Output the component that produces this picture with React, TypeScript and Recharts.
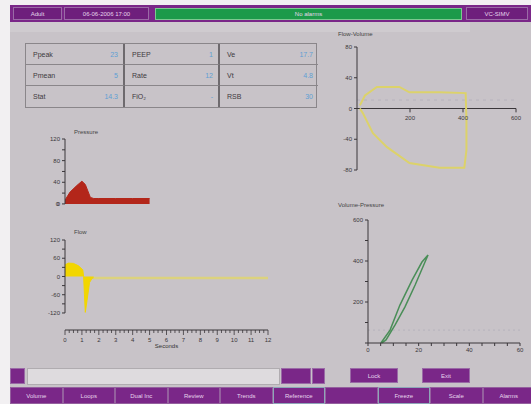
import React from "react";
import {
  ComposedChart,
  Area,
  Line,
  XAxis,
  YAxis,
  ReferenceLine,
} from "recharts";

// waveform values
const pressureT = [0, 0.3, 0.7, 1.0, 1.2, 1.5, 1.7, 2, 3, 4, 5];
const pressureP = [7, 22, 34, 42, 36, 12, 10, 10, 10, 10, 10];

const flowT = [0, 0.2, 0.5, 0.8, 1.05, 1.1, 1.15, 1.2, 1.3, 1.45, 1.6, 1.7];
const flowF = [38, 44, 43, 35, 22, 0, -60, -118, -80, -20, -6, -5];
const tailT = [1.7, 12];
const tailF = [-5, -5];

const fvX = [11, 22, 60, 112, 198, 311, 405, 413, 413, 410, 311, 198, 160, 75, 30, 11];
const fvY = [0, -6, -32, -50, -71, -77, -77, -54, -15, 20, 21, 21, 28, 28, 17, 4];

const vpX = [5.1, 8.7, 12.6, 17.4, 21.3, 23.7, 22.5, 18.6, 14.6, 10.7, 7.1, 5.5];
const vpY = [0, 63, 185, 307, 395, 429, 395, 283, 176, 88, 15, 0];

const secondsTicks = Array.from({ length: 49 }, (_, i) => i / 4);
const pressureTicks = [0, 20, 40, 60, 80, 100, 120];
const fvXTicks = [200, 400, 600];

const tableLabels = [
  ["Ppeak", "PEEP", "Ve"],
  ["Pmean", "Rate", "Vt"],
  ["Stat", "FiO\u2082", "RSB"],
];
const tableValues = [
  ["23", "1", "17.7"],
  ["5", "12", "4.8"],
  ["14.3", "-", "30"],
];

const menuItems = ["Volume", "Loops", "Dual Inc", "Review", "Trends", "Reference", "", "Freeze", "Scale", "Alarms"];

const pressureData = pressureT.map((t, i) => ({ t, p: pressureP[i] }));
const flowData = flowT.map((t, i) => ({ t, f: flowF[i] }));
const tailData = tailT.map((t, i) => ({ t, f: tailF[i] }));
const fvData = fvX.map((x, i) => ({ x, y: fvY[i] }));
const vpData = vpX.map((x, i) => ({ x, y: vpY[i] }));

const FONT = "'Liberation Sans', Arial, sans-serif";
const BG = "#c8c3c8";
const PURPLE = "#7a2788";
const AXIS = "#3a363a";
const tickStyle = { fontSize: 6, fill: "#3a363a", fontFamily: FONT };

const SecondsTick = (props: any) => {
  const { x, y, payload } = props;
  const v = payload.value;
  const major = Number.isInteger(v);
  return (
    <g>
      <line x1={x} x2={x} y1={y} y2={y + (major ? 5 : 3)} stroke={AXIS} strokeWidth={0.8} />
      {major && (
        <text x={x} y={y + 12} textAnchor="middle" {...tickStyle}>
          {v}
        </text>
      )}
    </g>
  );
};

const Title = ({ x, y, text }: { x: number; y: number; text: string }) => (
  <div style={{ position: "absolute", left: x, top: y, fontSize: 6, color: "#444", fontFamily: FONT }}>{text}</div>
);

const Box = ({ x, y, w, h, text, bg = PURPLE, border = "#9a6aa6" }: any) => (
  <div
    style={{
      position: "absolute",
      left: x,
      top: y,
      width: w,
      height: h,
      background: bg,
      border: `1px solid ${border}`,
      boxSizing: "border-box",
      color: "#e6d6ec",
      fontSize: 6,
      fontFamily: FONT,
      display: "flex",
      alignItems: "center",
      justifyContent: "center",
    }}
  >
    {text}
  </div>
);

const colW = [99, 95, 98];

export default function App() {
  return (
    <div style={{ position: "fixed", left: 0, top: 0, width: 531, height: 404, background: "#f2f0f2", overflow: "hidden" }}>
      <div style={{ position: "absolute", left: 10, top: 5, width: 521, height: 399, background: BG }} />
      {/* top status bar */}
      <div style={{ position: "absolute", left: 10, top: 5, width: 521, height: 17, background: PURPLE }} />
      <Box x={13} y={7} w={49} h={13} text="Adult" bg="#6e1f7c" />
      <Box x={64} y={7} w={85} h={13} text="06-06-2006 17:00" bg="#6e1f7c" />
      <Box x={155} y={8} w={307} h={12} text="No alarms" bg="#1c9a4a" border="#7cc890" />
      <Box x={466} y={7} w={62} h={13} text="VC-SIMV" bg="#6e1f7c" />
      <div style={{ position: "absolute", left: 10, top: 22, width: 460, height: 10, background: "#cfcbcf" }} />

      {/* parameter table */}
      <div
        style={{
          position: "absolute",
          left: 25,
          top: 43,
          width: 292,
          height: 65,
          border: "1px solid #8a868a",
          boxSizing: "border-box",
          display: "grid",
          gridTemplateColumns: colW.map((w) => `${w}px`).join(" "),
          gridTemplateRows: "21px 21px 21px",
          fontFamily: FONT,
          fontSize: 7,
        }}
      >
        {tableLabels.map((row, r) =>
          row.map((lab, c) => (
            <div
              key={`${r}-${c}`}
              style={{
                borderRight: c < 2 ? "2px solid #6e6a6e" : "none",
                borderBottom: r < 2 ? "1px solid #8a868a" : "none",
                display: "flex",
                alignItems: "center",
                justifyContent: "space-between",
                padding: "0 5px 0 7px",
              }}
            >
              <span style={{ color: "#3e3a3e" }}>{lab}</span>
              <span style={{ color: "#5f9fd4" }}>{tableValues[r][c]}</span>
            </div>
          ))
        )}
      </div>

      {/* pressure waveform */}
      <Title x={74} y={129} text="Pressure" />
      <div style={{ position: "absolute", left: 25, top: 120 }}>
        <ComposedChart width={253} height={92} margin={{ top: 19, right: 10, bottom: 7, left: 0 }} data={pressureData}>
          <XAxis hide type="number" dataKey="t" domain={[0, 12]} allowDataOverflow />
          <YAxis
            type="number"
            domain={[-2, 120]}
            allowDataOverflow
            ticks={pressureTicks}
            interval={0}
            tickFormatter={(v: number) => (v % 40 === 0 ? String(v) : "")}
            width={40}
            tick={tickStyle}
            tickSize={3}
            axisLine={false}
            stroke={AXIS}
          />
          <ReferenceLine segment={[{ x: 0, y: 0 }, { x: 0, y: 120 }]} stroke={AXIS} />
          <ReferenceLine
            y={0}
            stroke="none"
            label={{ value: "0", position: "left", offset: 6, fontSize: 6, fill: "#3a363a", fontFamily: FONT }}
          />
          <Area
            type="linear"
            dataKey="p"
            baseValue={0}
            stroke="#b3261a"
            fill="#b3261a"
            fillOpacity={1}
            isAnimationActive={false}
            dot={false}
          />
        </ComposedChart>
      </div>

      {/* flow waveform */}
      <Title x={74} y={229} text="Flow" />
      <div style={{ position: "absolute", left: 25, top: 225 }}>
        <ComposedChart width={253} height={125} margin={{ top: 15, right: 10, bottom: 0, left: 0 }}>
          <XAxis
            type="number"
            dataKey="t"
            domain={[0, 12]}
            ticks={secondsTicks}
            interval={0}
            tick={<SecondsTick />}
            tickLine={false}
            tickSize={0}
            tickMargin={0}
            height={20}
            stroke={AXIS}
            label={{ value: "Seconds", position: "insideBottom", offset: 2, fontSize: 6, fill: "#333", fontFamily: FONT }}
          />
          <YAxis
            type="number"
            domain={[-176, 120]}
            ticks={[-120, -90, -60, -30, 0, 30, 60, 90, 120]}
            interval={0}
            tickFormatter={(v: number) => (v % 60 === 0 ? String(v) : "")}
            width={40}
            tick={tickStyle}
            tickSize={3}
            axisLine={false}
            stroke={AXIS}
          />
          <ReferenceLine segment={[{ x: 0, y: -120 }, { x: 0, y: 120 }]} stroke={AXIS} />
          <Area
            data={flowData}
            type="linear"
            dataKey="f"
            stroke="#f2d600"
            fill="#f2d600"
            fillOpacity={1}
            isAnimationActive={false}
            dot={false}
          />
          <Line data={tailData} type="linear" dataKey="f" stroke="#dcd27e" strokeWidth={2.5} dot={false} isAnimationActive={false} />
        </ComposedChart>
      </div>

      {/* flow-volume loop */}
      <Title x={338} y={31} text="Flow-Volume" />
      <div style={{ position: "absolute", left: 322, top: 35 }}>
        <ComposedChart width={206} height={140} margin={{ top: 12, right: 12, bottom: 5, left: 0 }} data={fvData}>
          <XAxis hide type="number" dataKey="x" domain={[0, 600]} allowDataOverflow />
          <YAxis
            type="number"
            domain={[-80, 80]}
            ticks={[-80, -40, 0, 40, 80]}
            interval={0}
            width={35}
            tick={tickStyle}
            tickSize={3}
            stroke={AXIS}
          />
          <ReferenceLine y={11} stroke="#b6b2bc" strokeDasharray="3 4" />
          <ReferenceLine y={0} stroke={AXIS} />
          {fvXTicks.map((v) => (
            <ReferenceLine
              key={v}
              segment={[{ x: v, y: 0 }, { x: v, y: -5 }]}
              stroke={AXIS}
              label={{ value: String(v), position: "bottom", offset: 3, fontSize: 6, fill: "#3a363a", fontFamily: FONT }}
            />
          ))}
          <Line type="linear" dataKey="y" stroke="#dcd26a" strokeWidth={2} dot={false} isAnimationActive={false} />
        </ComposedChart>
      </div>

      {/* volume-pressure loop */}
      <Title x={338} y={202} text="Volume-Pressure" />
      <div style={{ position: "absolute", left: 333, top: 208 }}>
        <ComposedChart width={197} height={153} margin={{ top: 12, right: 10, bottom: 0, left: 0 }} data={vpData}>
          <XAxis
            type="number"
            dataKey="x"
            domain={[0, 60]}
            ticks={[0, 5, 10, 15, 20, 25, 30, 35, 40, 45, 50, 55, 60]}
            interval={0}
            tickFormatter={(v: number) => (v % 20 === 0 ? String(v) : "")}
            height={18}
            tick={tickStyle}
            tickSize={3}
            stroke={AXIS}
          />
          <YAxis
            type="number"
            domain={[0, 600]}
            ticks={[0, 100, 200, 300, 400, 500, 600]}
            interval={0}
            tickFormatter={(v: number) => (v > 0 && v % 200 === 0 ? String(v) : "")}
            width={35}
            tick={tickStyle}
            tickSize={3}
            stroke={AXIS}
          />
          <ReferenceLine y={63} stroke="#b6b2bc" strokeDasharray="2 3" />
          <Line type="linear" dataKey="y" stroke="#4a8e58" strokeWidth={1.5} dot={false} isAnimationActive={false} />
        </ComposedChart>
      </div>

      {/* lower command strip */}
      <Box x={10} y={368} w={15} h={16} text="" />
      <div style={{ position: "absolute", left: 27, top: 368, width: 253, height: 17, background: "#dedbde", border: "1px solid #b0acb0", boxSizing: "border-box" }} />
      <Box x={281} y={368} w={30} h={16} text="" />
      <Box x={312} y={368} w={13} h={16} text="" />
      <Box x={350} y={368} w={48} h={15} text="Lock" />
      <Box x={422} y={368} w={48} h={15} text="Exit" />

      <div style={{ position: "absolute", left: 10, top: 387, width: 521, height: 17, background: PURPLE }} />
      {menuItems.map((m, i) => (
        <Box
          key={i}
          x={10 + i * 52.5}
          y={387}
          w={52.5}
          h={17}
          text={m}
          bg={PURPLE}
          border={i === 5 || i === 7 ? "#8ea6b8" : "#94609e"}
        />
      ))}
    </div>
  );
}
